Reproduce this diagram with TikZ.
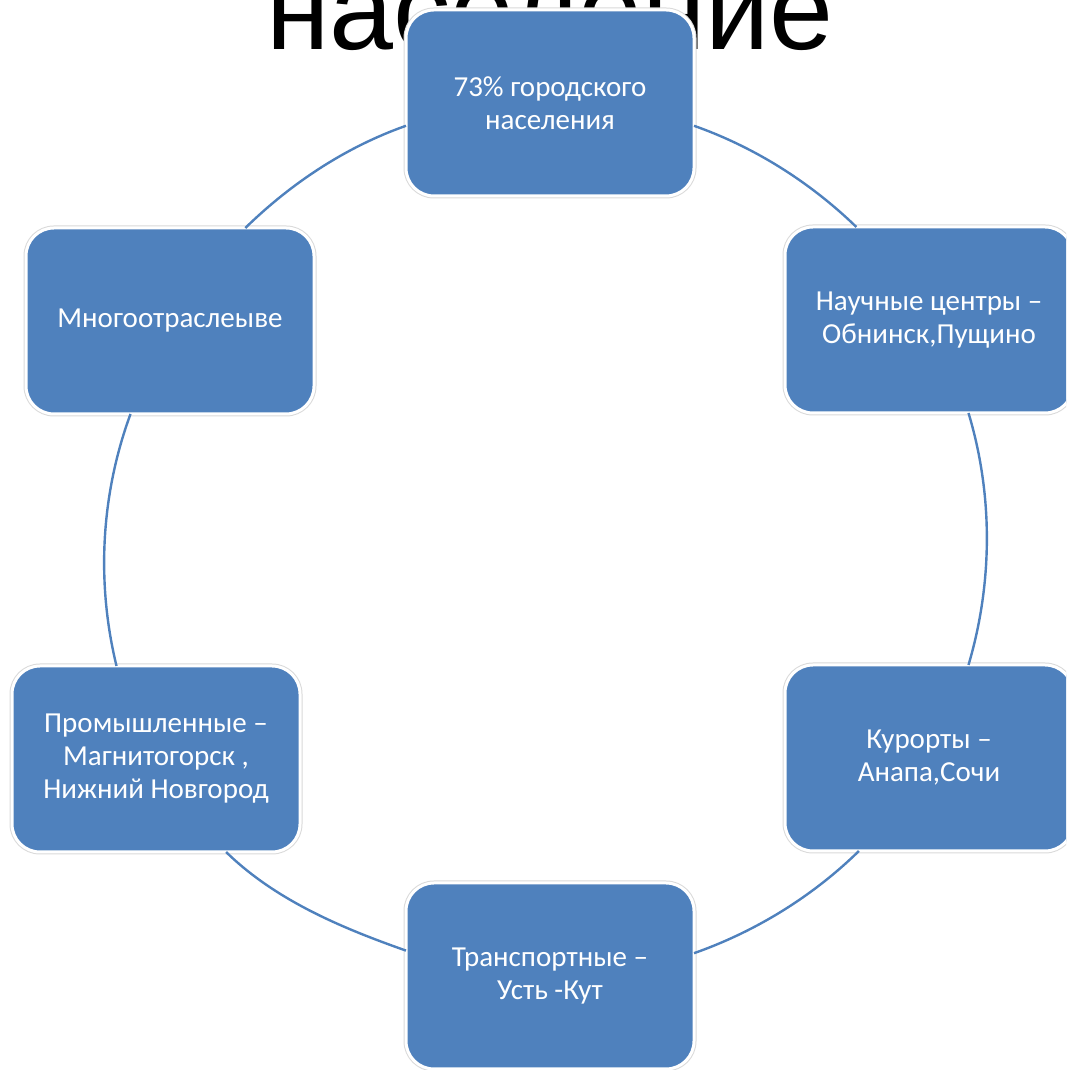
\documentclass[tikz,border=0pt]{standalone}
\usepackage{fontspec}
\setmainfont{Carlito}
\newfontfamily\titlefont{Liberation Sans}
\definecolor{boxblue}{HTML}{4F81BD}
\definecolor{ringblue}{HTML}{4F81BD}
\begin{document}
\begin{tikzpicture}[x=1pt,y=1pt,
  cbox/.style={rectangle, rounded corners=28pt, fill=boxblue, draw=white, line width=3pt,
    preaction={draw=black!15, line width=5pt},
    minimum width=288pt, minimum height=186pt, outer sep=0pt, align=center,
    text=white, font=\fontsize{29}{33}\selectfont},
  ring/.style={draw=ringblue, line width=2.4pt, looseness=0.87}]
\useasboundingbox (0,0) rectangle (1066,1070);
\clip (0,0) rectangle (1066,1070);
\node[font=\titlefont\fontsize{115}{115}\selectfont, anchor=base, inner sep=0pt] (title) at (550,1020) {население};
\node[cbox] (top) at (550,967) {73\% городского\\населения};
\node[cbox] (ur) at (929,750) {Научные центры –\\Обнинск,Пущино};
\node[cbox] (lr) at (929,312) {Курорты –\\Анапа,Сочи};
\node[cbox] (bot) at (550,94) {Транспортные –\\Усть -Кут};
\node[cbox] (ll) at (156,311) {Промышленные –\\Магнитогорск ,\\Нижний Новгород};
\node[cbox] (ul) at (170,749) {Многоотраслеыве};
\draw[ring] (top.-9.7) to[out=-19.4, in=135.9, looseness=0.86] (ur.128.6);
\draw[ring] (ur.-67.3) to[out=-73.2, in=73.5] (lr.67);
\draw[ring] (lr.-127.8) to[out=-135.6, in=19.4, looseness=0.86] (bot.9.3);
\draw[ring] (bot.170.7) to[out=160.6, in=-44.3, looseness=0.86] (ll.-53.7);
\draw[ring] (ll.113.6) to[out=103.7, in=-110.2] (ul.-113.6);
\draw[ring] (ul.51.4) to[out=44.3, in=199.4, looseness=0.86] (top.189.7);
\end{tikzpicture}
\end{document}
